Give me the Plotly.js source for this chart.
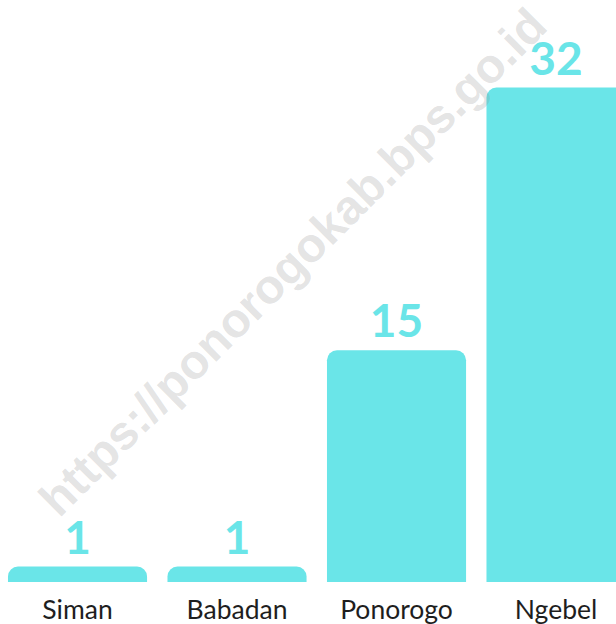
<!DOCTYPE html>
<html>
<head>
<meta charset="utf-8">
<script src="https://cdn.plot.ly/plotly-3.0.1.min.js"></script>
<style>html,body{margin:0;padding:0;background:#fff;}#chart{width:616px;height:624px;}</style>
</head>
<body>
<div id="chart"></div>
<script>
const categories = ["Siman", "Babadan", "Ponorogo", "Ngebel"];
const values = [1, 1, 15, 32];
const valueLabels = ["1", "1", "15", "32"];
const watermarkText = "https://ponorogokab.bps.go.id";

const barColor = "#6ae5e8";

const trace = {
  type: "bar",
  x: categories,
  y: values,
  text: valueLabels,
  textposition: "outside",
  cliponaxis: false,
  textfont: {family: "Lato", size: 46, color: barColor, weight: 700},
  marker: {color: barColor, cornerradius: 10, line: {width: 0}},
  hoverinfo: "none"
};

const layout = {
  width: 616,
  height: 624,
  margin: {l: 0, r: 0, t: 0, b: 42, pad: 0},
  paper_bgcolor: "#ffffff",
  plot_bgcolor: "#ffffff",
  showlegend: false,
  bargap: 0.128,
  xaxis: {
    type: "category",
    range: [-0.486, 3.376],
    showgrid: false, zeroline: false, showline: false, ticks: "",
    tickfont: {family: "Lato", size: 26.5, color: "#1e1e1e"},
    ticklabelstandoff: 9,
    fixedrange: true
  },
  yaxis: {
    range: [0, 37.67],
    visible: false,
    showgrid: false, zeroline: false,
    fixedrange: true
  },
  annotations: [{
    text: watermarkText,
    xref: "paper", yref: "paper",
    x: 292 / 616, y: 1 - 262 / 582,
    xanchor: "center", yanchor: "middle",
    showarrow: false,
    textangle: -45,
    font: {family: "Liberation Sans", size: 48, color: "rgba(140,140,140,0.24)", weight: 700}
  }]
};

Plotly.newPlot("chart", [trace], layout, {displayModeBar: false, staticPlot: true});
</script>
</body>
</html>
